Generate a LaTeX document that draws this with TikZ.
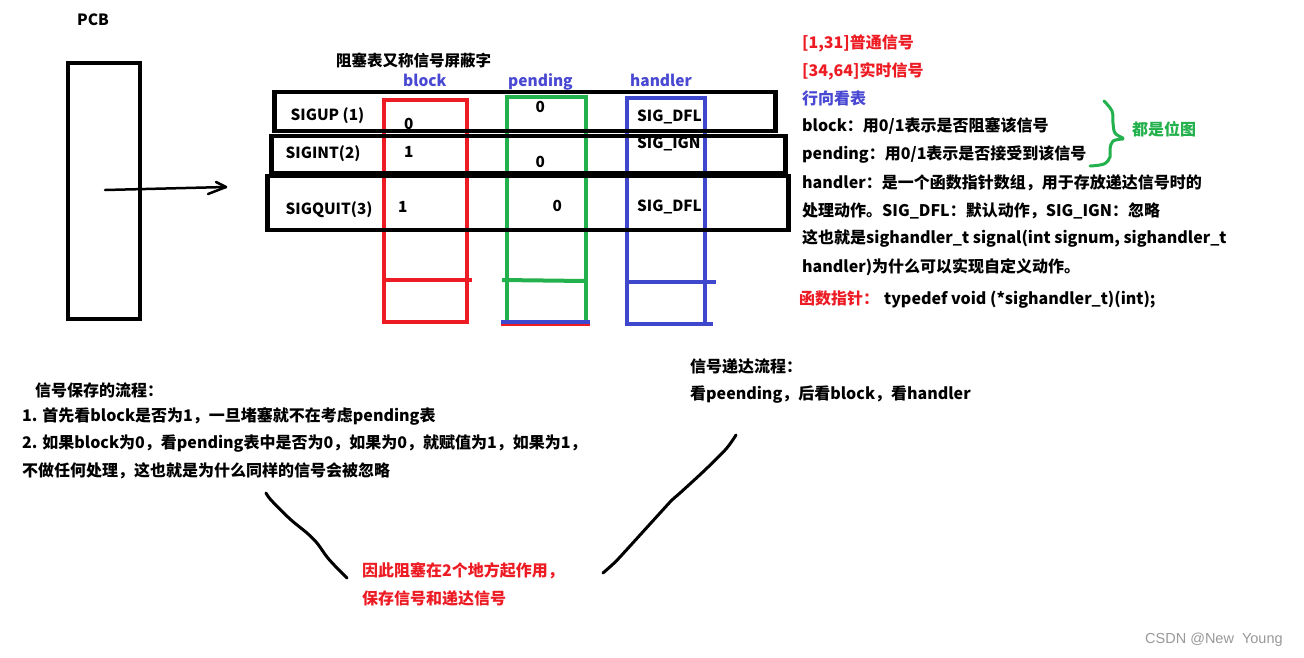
\documentclass[tikz,border=0pt]{standalone}
\usepackage{fontspec}
\setmainfont{Noto Sans CJK SC}
\newfontfamily\wmfont{Liberation Sans}
\definecolor{pred}{RGB}{237,28,36}
\definecolor{pgreen}{RGB}{34,177,76}
\definecolor{pblue}{RGB}{63,72,204}
\definecolor{lblue}{RGB}{72,72,210}
\tikzset{
  txt/.style={anchor=base west, inner sep=0pt, font=\bfseries\fontsize{16}{16}\selectfont},
  tab/.style={anchor=base west, inner sep=0pt, font=\bfseries\fontsize{15.3}{15.3}\selectfont},
  rowbox/.style={draw=black, line width=4.5pt},
  colbox/.style={line width=4pt},
  stroke/.style={black, line width=3pt, line cap=round, line join=round},
}
\begin{document}
\begin{tikzpicture}[x=1pt,y=-1pt]
\useasboundingbox[fill=white] (0,0) rectangle (1304,657);

% PCB
\node[tab, font=\bfseries\fontsize{15.5}{15.5}\selectfont] (pcb) at (77,25) {PCB};
\draw[line width=4.5pt] (68,63) rectangle (140,319);
\coordinate (arrS) at (105,190);
\coordinate (arrE) at (226,187);
\draw[stroke, line width=2.5pt] (arrS) -- (arrE);
\draw[stroke, line width=2.5pt] (208,194) -- (arrE) -- (216,182);

% title and column labels
\node[txt, font=\bfseries\fontsize{15.5}{15.5}\selectfont] (title) at (336,66) {阻塞表又称信号屏蔽字};
\node[tab, font=\bfseries\fontsize{15.5}{15.5}\selectfont, text=lblue] (lblock) at (403,86) {block};
\node[tab, font=\bfseries\fontsize{15.5}{15.5}\selectfont, text=lblue] (lpend) at (508,86) {pending};
\node[tab, font=\bfseries\fontsize{15.5}{15.5}\selectfont, text=lblue] (lhand) at (630,86) {handler};

% columns
\draw[colbox, pred] (384,99.5) rectangle (466.5,321.5);
\draw[colbox, pred] (384,280) -- (472,280);
\draw[colbox, pgreen] (506.5,97) rectangle (585.5,321.5);
\draw[colbox, pgreen] (502,280) -- (585.5,281);
\draw[colbox, pred] (501,323.5) -- (590,323.5);
\draw[colbox, pblue] (501,321.5) -- (590,321.5);
\draw[colbox, pblue] (626.5,97.5) rectangle (705,324);
\draw[colbox, pblue] (626.5,281.5) -- (716,281.5);
\draw[colbox, pblue] (626.5,324) -- (713,324);

% rows
\draw[rowbox] (274.5,92) rectangle (775.5,131);
\draw[rowbox] (271.5,136) rectangle (785.5,173);
\draw[rowbox] (267.5,176) rectangle (788.5,230);

% table texts
\node[tab] (r1) at (290.5,120) {SIGUP (1)};
\node[tab] (r2) at (285.5,158.5) {SIGINT(2)};
\node[tab] (r3) at (285.5,214.5) {SIGQUIT(3)};
\node[tab] (b1) at (404,129.5) {0};
\node[tab] (b2) at (404,157) {1};
\node[tab] (b3) at (398,212) {1};
\node[tab] (p1) at (535.5,112) {0};
\node[tab] (p2) at (535.5,167.5) {0};
\node[tab] (p3) at (552.5,211.5) {0};
\node[tab] (h1) at (637,121) {SIG\_DFL};
\node[tab] (h2) at (637,148) {SIG\_IGN};
\node[tab] (h3) at (637,211.5) {SIG\_DFL};

% right notes
\node[txt, text=pred] (n1) at (802,48) {[1,31]普通信号};
\node[txt, text=pred] (n2) at (802,76) {[34,64]实时信号};
\node[txt, text=lblue] (n3) at (802,104) {行向看表};
\node[txt] (n4) at (802,131) {block：用0/1表示是否阻塞该信号};
\node[txt] (n5) at (802,159) {pending：用0/1表示是否接受到该信号};
\node[txt] (n6) at (802,188) {handler：是一个函数指针数组，用于存放递达信号时的};
\node[txt] (n7) at (802,216) {处理动作。SIG\_DFL：默认动作，SIG\_IGN：忽略};
\node[txt] (n8) at (802,243) {这也就是sighandler\_t signal(int signum, sighandler\_t};
\node[txt] (n9) at (802,272) {handler)为什么可以实现自定义动作。};
\node[txt, text=pred] (n10) at (799,304) {函数指针：};
\node[txt] (n11) at (884,304) {typedef void (*sighandler\_t)(int);};

% brace
\draw[pgreen, line width=3pt, line cap=round, line join=round]
  plot[smooth, tension=0.6] coordinates {(1104,101) (1112,111) (1113,123) (1115,133) (1123,138)};
\draw[pgreen, line width=3pt, line cap=round, line join=round]
  plot[smooth, tension=0.6] coordinates {(1123,139) (1113,141) (1110,149) (1110,157) (1104,164) (1090,166)};
\node[txt, text=pgreen] (bitmap) at (1132,135) {都是位图};

% bottom left
\node[txt] (s0) at (35,396) {信号保存的流程：};
\node[txt] (s1) at (22,421) {1. 首先看block是否为1，一旦堵塞就不在考虑pending表};
\node[txt] (s2) at (22,448) {2. 如果block为0，看pending表中是否为0，如果为0，就赋值为1，如果为1，};
\node[txt] (s3) at (22,476) {不做任何处理，这也就是为什么同样的信号会被忽略};

% middle right
\node[txt] (d0) at (690,372) {信号递达流程：};
\node[txt] (d1) at (690,399) {看peending，后看block，看handler};

% bottom red
\node[txt, text=pred] (c0) at (362,576) {因此阻塞在2个地方起作用，};
\node[txt, text=pred] (c1) at (362,604) {保存信号和递达信号};

% hand strokes
\coordinate (lA) at (266,493);
\coordinate (lB) at (347,578);
\draw[stroke] plot[smooth, tension=0.5] coordinates {(lA) (271,500) (290,519) (307,533) (317,543) (327,557) (337,568) (lB)};
\coordinate (rA) at (736,435);
\coordinate (rB) at (603,573);
\draw[stroke] plot[smooth, tension=0.5] coordinates {(rA) (726,449) (705,470) (680,493) (672,500) (660,513) (620,557) (612,565) (rB)};

% watermark
\node[anchor=base west, inner sep=0pt, font=\wmfont\fontsize{14.5}{14.5}\selectfont, text=black!40] (wm) at (1145,643) {CSDN @New\hspace{8pt}Young};
\end{tikzpicture}
\end{document}
